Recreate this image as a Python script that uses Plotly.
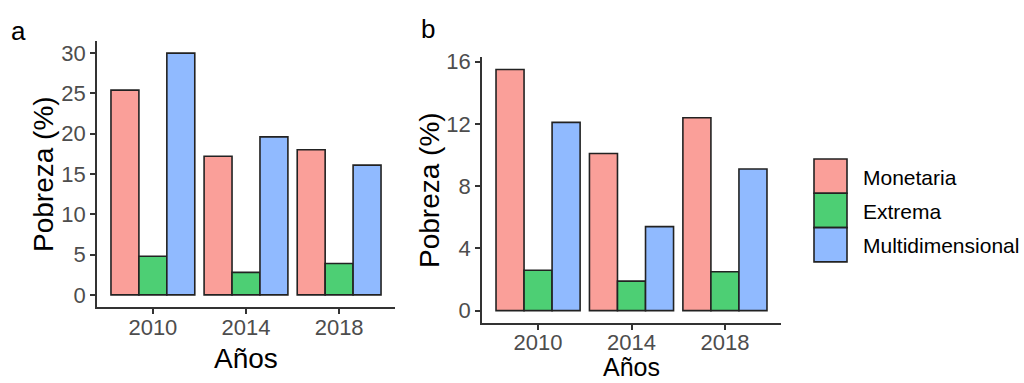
import plotly.graph_objects as go

years = ["2010", "2014", "2018"]
series_names = ["Monetaria", "Extrema", "Multidimensional"]
a_monetaria = [25.4, 17.2, 18.0]
a_extrema = [4.8, 2.8, 3.9]
a_multidim = [30.0, 19.6, 16.1]
b_monetaria = [15.5, 10.1, 12.4]
b_extrema = [2.6, 1.9, 2.5]
b_multidim = [12.1, 5.4, 9.1]
colors = ["#FA9F99", "#4DCF74", "#90BAFF"]

W, H = 1024, 383
def px(x): return x / W
def py(y): return 1 - y / H

FONT = "Arial, Liberation Sans, sans-serif"
fig = go.Figure()
panels = [("x", "y", [a_monetaria, a_extrema, a_multidim]),
          ("x2", "y2", [b_monetaria, b_extrema, b_multidim])]
for xa, ya, vals in panels:
    for name, v, c in zip(series_names, vals, colors):
        fig.add_trace(go.Bar(x=years, y=v, name=name, xaxis=xa, yaxis=ya,
                             marker=dict(color=c, line=dict(color="#222222", width=1.6)),
                             showlegend=False))

axis_common = dict(showline=True, linecolor="#333333", linewidth=1.6, ticks="outside",
                   ticklen=5, tickwidth=1.5, tickcolor="#333333", showgrid=False, zeroline=False,
                   automargin=False,
                   tickfont=dict(family=FONT, size=22, color="#4D4D4D"))

fig.update_layout(
    width=W, height=H, margin=dict(l=0, r=0, t=0, b=0),
    paper_bgcolor="white", plot_bgcolor="white",
    barmode="group", bargap=0.1, bargroupgap=0,
    xaxis=dict(domain=[px(97), px(395)], anchor="y", type="category", range=[-0.6, 2.6],
               ticklabelstandoff=-5, **axis_common),
    yaxis=dict(domain=[py(307), py(41)], anchor="x", range=[-1.5, 31.5], tickvals=[0, 5, 10, 15, 20, 25, 30], **axis_common),
    xaxis2=dict(domain=[px(482), px(781)], anchor="y2", type="category", range=[-0.6, 2.6],
                ticklabelstandoff=-6, **axis_common),
    yaxis2=dict(domain=[py(322.7), py(57.4)], anchor="x2", range=[-0.775, 16.275], tickvals=[0, 4, 8, 12, 16], **axis_common),
)

ann = []
def add_text(text, x, y, size, rot=0, color="black", xanchor="center", yanchor="middle"):
    ann.append(dict(text=text, x=px(x), y=py(y), xref="paper", yref="paper", showarrow=False,
                    xanchor=xanchor, yanchor=yanchor, textangle=rot,
                    font=dict(family=FONT, size=size, color=color)))

add_text("a", 18, 31, 26)
add_text("b", 428, 29, 26)
add_text("Años", 246, 358, 28)
add_text("Años", 631.5, 383, 25, yanchor="bottom")
add_text("Pobreza (%)", 43, 174, 28, rot=-90)
add_text("Pobreza (%)", 429, 190, 28, rot=-90)

# legend
key_top = 159
key_h = 34.3
for i, (name, c) in enumerate(zip(series_names, colors)):
    y0 = key_top + i * key_h
    fig.add_shape(type="rect", xref="paper", yref="paper", x0=px(814), x1=px(847),
                  y0=py(y0 + key_h), y1=py(y0), fillcolor=c, line=dict(color="#222222", width=1.6))
    add_text(name, 861, y0 + key_h / 2 + 1, 21, xanchor="left")

fig.update_layout(annotations=ann)
fig.write_html("out.html", config={"displayModeBar": False},
               post_script="document.body.style.margin='0';document.body.style.overflow='hidden';")
